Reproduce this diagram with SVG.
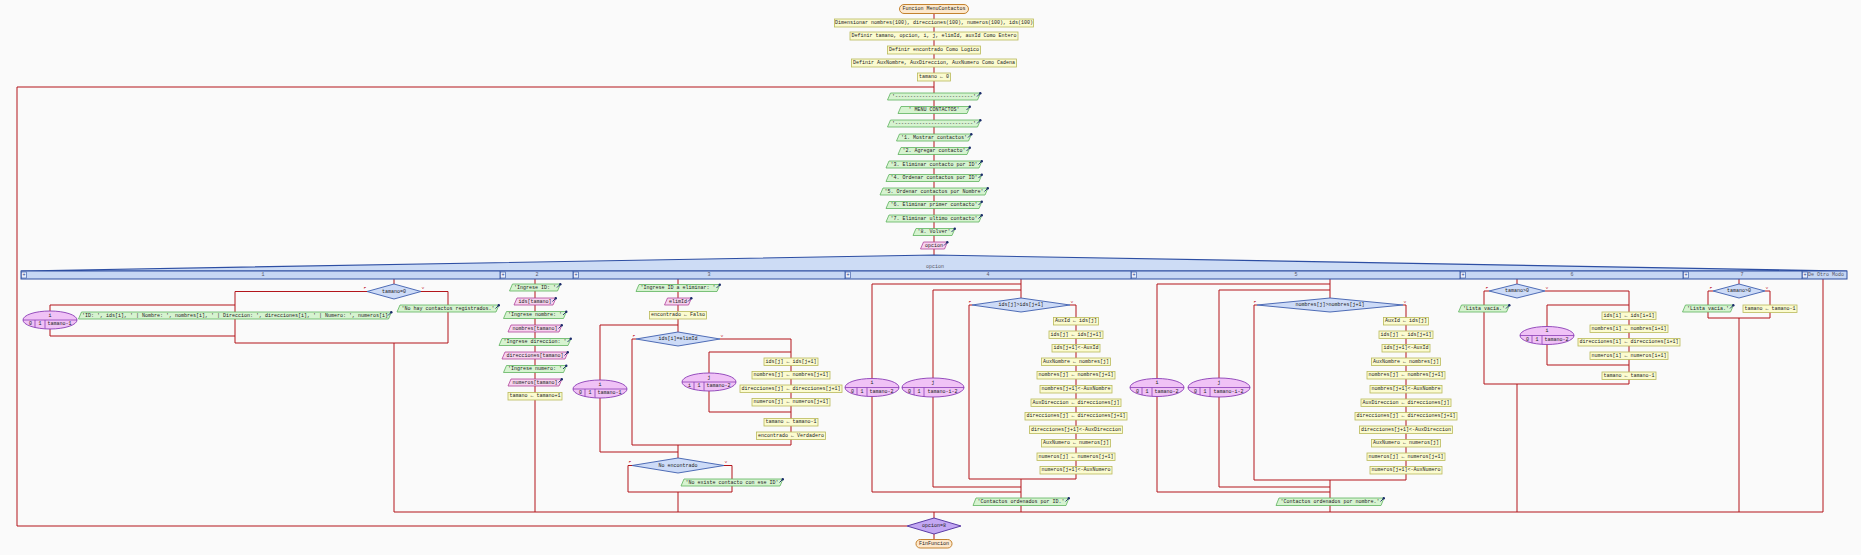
<svg xmlns="http://www.w3.org/2000/svg" width="1861" height="555" viewBox="0 0 1861 555">
<style>
text{font-family:"Liberation Mono","DejaVu Sans Mono",monospace;font-size:5px;fill:#222;text-anchor:middle;dominant-baseline:central}
.a{fill:#fbfbd0;stroke:#b9b95a;stroke-width:.8}
.o{fill:#d6f3d0;stroke:#5db35d;stroke-width:.8}
.i{fill:#f7d3ef;stroke:#b0449a;stroke-width:.8}
.d{fill:#cddbf7;stroke:#3d5dae;stroke-width:.9}
.f{fill:#f0c2f6;stroke:#8a3cb6;stroke-width:.9}
.t{fill:#fde8cc;stroke:#c3822f;stroke-width:1}
.c path{fill:none;stroke:#b3151b;stroke-width:1}
.fv{font-size:4px;fill:#c0141a}
.lbl{fill:#556}
.pb{fill:#e8eefa;stroke:#2e4fa0;stroke-width:.6}
.pt{fill:#1d3580;font-size:5px}
</style>
<defs>
<g id="ic"><path d="M-2.5,2.5 L0.5,-0.5" stroke="#1b2b6b" stroke-width="0.9"/><circle cx="0.8" cy="-0.8" r="1.2" fill="#1b2b6b"/></g>
<g id="fe"><ellipse class="f" cx="0" cy="0" rx="27" ry="9"/><path d="M-27,0 H27 M-15,0 V7.5 M-5,0 V8.8" stroke="#8a3cb6" stroke-width=".8" fill="none"/></g>
<g id="fw"><ellipse class="f" cx="0" cy="0" rx="31" ry="9.5"/><path d="M-31,0 H31 M-19,0 V7.5 M-9,0 V9.1" stroke="#8a3cb6" stroke-width=".8" fill="none"/></g>
</defs>
<rect x="0" y="0" width="1861" height="555" fill="#fafafa"/>

<g id="connectors" class="c">
<path d="M934,14 V255"/>
<path d="M907,526 H17 V87 H934"/>
<path d="M394,512 H1823"/>
<path d="M934,512 V518"/>
<path d="M934,534 V540"/>
<path d="M394,279 V284"/>
<path d="M367,291.5 H235 V343 H448 V291.5 H421"/>
<path d="M394,343 V512"/>
<path d="M235,305 H50 V311"/>
<path d="M50,329 V336 H235"/>
<path d="M535,279 V512"/>
<path d="M678,279 V332"/>
<path d="M636,339 H632 V445 H791 V339 H720"/>
<path d="M678,445 V458"/>
<path d="M678,325 H600 V380"/>
<path d="M600,398 V452 H678"/>
<path d="M791,352 H709 V373"/>
<path d="M709,391 V412 H791"/>
<path d="M632,465.5 H628 V492 H732 V465.5 H724"/>
<path d="M678,492 V512"/>
<path d="M1021,279 V298"/>
<path d="M1021,284 H872 V378.5"/>
<path d="M872,396.5 V492 H1021"/>
<path d="M1021,290 H933 V378"/>
<path d="M933,397 V487 H1021"/>
<path d="M972,305 H969 V479 H1076 V305 H1070"/>
<path d="M1021,479 V512"/>
<path d="M1330,279 V298"/>
<path d="M1330,284 H1157 V378.5"/>
<path d="M1157,396.5 V492 H1330"/>
<path d="M1330,290 H1219 V378"/>
<path d="M1219,397 V487 H1330"/>
<path d="M1257,305 H1254 V480 H1406 V305 H1403"/>
<path d="M1330,480 V512"/>
<path d="M1517,279 V284"/>
<path d="M1489,291 H1484 V384 H1629 V291 H1545"/>
<path d="M1629,305 H1547 V326.5"/>
<path d="M1547,344.5 V365 H1629"/>
<path d="M1517,384 V512"/>
<path d="M1739,279 V284"/>
<path d="M1713,291 H1708 V318 H1770 V291 H1765"/>
<path d="M1739,318 V512"/>
<path d="M1823,279 V512"/>
</g>

<g id="n_start"><rect class="t" x="899.5" y="4.5" width="69" height="9" rx="4.5"/><text x="934" y="9">Funcion MenuContactos</text></g>
<g id="n_dim"><rect class="a" x="834.5" y="19" width="199" height="8"/><text x="934" y="23">Dimensionar nombres(100), direcciones(100), numeros(100), ids(100)</text></g>
<g id="n_def1"><rect class="a" x="850" y="32" width="168" height="8"/><text x="934" y="36">Definir tamano, opcion, i, j, elimId, auxId Como Entero</text></g>
<g id="n_def2"><rect class="a" x="887.5" y="46" width="93" height="8"/><text x="934" y="50">Definir encontrado Como Logico</text></g>
<g id="n_def3"><rect class="a" x="851.5" y="59" width="165" height="8"/><text x="934" y="63">Definir AuxNombre, AuxDireccion, AuxNumero Como Cadena</text></g>
<g id="n_tam0"><rect class="a" x="917.5" y="73" width="33" height="8"/><text x="934" y="77">tamano ← 0</text></g>

<g id="m1"><path class="o" d="M890.5,93 H980.5 L977.5,100 H887.5 Z"/><text x="934" y="96.5">'--------------------------'</text><use href="#ic" x="979.5" y="94"/></g>
<g id="m2"><path class="o" d="M901,106.5 H970 L967,113.5 H898 Z"/><text x="934" y="110">'     MENU CONTACTOS'</text><use href="#ic" x="969" y="107.5"/></g>
<g id="m3"><path class="o" d="M890.5,120 H980.5 L977.5,127 H887.5 Z"/><text x="934" y="123.5">'--------------------------'</text><use href="#ic" x="979.5" y="121"/></g>
<g id="m4"><path class="o" d="M899.5,134 H971.5 L968.5,141 H896.5 Z"/><text x="934" y="137.5">'1. Mostrar contactos'</text><use href="#ic" x="970.5" y="135"/></g>
<g id="m5"><path class="o" d="M901,147.5 H970 L967,154.5 H898 Z"/><text x="934" y="151">'2. Agregar contacto'</text><use href="#ic" x="969" y="148.5"/></g>
<g id="m6"><path class="o" d="M889,161 H982 L979,168 H886 Z"/><text x="934" y="164.5">'3. Eliminar contacto por ID'</text><use href="#ic" x="981" y="162"/></g>
<g id="m7"><path class="o" d="M889,174.5 H982 L979,181.5 H886 Z"/><text x="934" y="178">'4. Ordenar contactos por ID'</text><use href="#ic" x="981" y="175.5"/></g>
<g id="m8"><path class="o" d="M883,188 H988 L985,195 H880 Z"/><text x="934" y="191.5">'5. Ordenar contactos por Nombre'</text><use href="#ic" x="987" y="189"/></g>
<g id="m9"><path class="o" d="M889,201.5 H982 L979,208.5 H886 Z"/><text x="934" y="205">'6. Eliminar primer contacto'</text><use href="#ic" x="981" y="202.5"/></g>
<g id="m10"><path class="o" d="M889,215 H982 L979,222 H886 Z"/><text x="934" y="218.5">'7. Eliminar ultimo contacto'</text><use href="#ic" x="981" y="216"/></g>
<g id="m11"><path class="o" d="M916,228.5 H955 L952,235.5 H913 Z"/><text x="934" y="232">'8. Volver'</text><use href="#ic" x="954" y="229.5"/></g>
<g id="n_leer"><path class="i" d="M923.5,242 H947.5 L944.5,249 H920.5 Z"/><text x="934" y="245.5">opcion</text><use href="#ic" x="946.5" y="243"/></g>

<g id="n_segun">
<polygon points="21,271 934,255 1847,271" fill="#cddcf5" stroke="#2d4ea3" stroke-width="1.1"/>
<text x="935" y="266.5" class="lbl">opcion</text>
<rect x="21" y="271" width="1826" height="8" fill="#c6d7f4" stroke="#2e4fa0" stroke-width="1"/>
<path d="M500,271 V279 M573,271 V279 M845,271 V279 M1131,271 V279 M1460,271 V279 M1683,271 V279 M1802,271 V279" stroke="#2e4fa0" stroke-width=".8"/>
<rect class="pb" x="21.5" y="272" width="5" height="6"/><text class="pt" x="24" y="275">+</text>
<rect class="pb" x="500.5" y="272" width="5" height="6"/><text class="pt" x="503" y="275">+</text>
<rect class="pb" x="573.5" y="272" width="5" height="6"/><text class="pt" x="576" y="275">+</text>
<rect class="pb" x="845.5" y="272" width="5" height="6"/><text class="pt" x="848" y="275">+</text>
<rect class="pb" x="1131.5" y="272" width="5" height="6"/><text class="pt" x="1134" y="275">+</text>
<rect class="pb" x="1460.5" y="272" width="5" height="6"/><text class="pt" x="1463" y="275">+</text>
<rect class="pb" x="1683.5" y="272" width="5" height="6"/><text class="pt" x="1686" y="275">+</text>
<rect class="pb" x="1802.5" y="272" width="5" height="6"/><text class="pt" x="1805" y="275">+</text>
<text class="lbl" x="263" y="275">1</text>
<text class="lbl" x="537" y="275">2</text>
<text class="lbl" x="709" y="275">3</text>
<text class="lbl" x="988" y="275">4</text>
<text class="lbl" x="1296" y="275">5</text>
<text class="lbl" x="1572" y="275">6</text>
<text class="lbl" x="1742" y="275">7</text>
<text class="lbl" x="1826" y="275">De Otro Modo</text>
</g>

<!-- case 1 -->
<g id="c1_si"><polygon class="d" points="394,284 421,291.5 394,299 367,291.5"/><text x="394" y="291.5">tamano=0</text><text class="fv" x="365" y="288">F</text><text class="fv" x="423" y="288">V</text></g>
<g id="c1_para"><use href="#fe" x="50" y="320"/><text x="50" y="315.5">i</text><text x="30.5" y="324">0</text><text x="40" y="324">1</text><text x="59.5" y="324">tamano-1</text></g>
<g id="c1_out"><path class="o" d="M81.5,312 H391.5 L388.5,319 H78.5 Z"/><text x="235" y="315.5">'ID: ', ids[i], ' | Nombre: ', nombres[i], ' | Direccion: ', direcciones[i], ' | Numero: ', numeros[i]</text><use href="#ic" x="390.5" y="313"/></g>
<g id="c1_vacio"><path class="o" d="M400,305 H499 L496,312 H397 Z"/><text x="448" y="308.5">'No hay contactos registrados.'</text><use href="#ic" x="498" y="306"/></g>

<!-- case 2 -->
<g id="c2_o1"><path class="o" d="M512.5,284 H560.5 L557.5,291 H509.5 Z"/><text x="535" y="287.5">'Ingrese ID: '</text><use href="#ic" x="559.5" y="285"/></g>
<g id="c2_i1"><path class="i" d="M517,298 H556 L553,305 H514 Z"/><text x="535" y="301.5">ids[tamano]</text><use href="#ic" x="555" y="299"/></g>
<g id="c2_o2"><path class="o" d="M506.5,311.5 H566.5 L563.5,318.5 H503.5 Z"/><text x="535" y="315">'Ingrese nombre: '</text><use href="#ic" x="565.5" y="312.5"/></g>
<g id="c2_i2"><path class="i" d="M511,325 H562 L559,332 H508 Z"/><text x="535" y="328.5">nombres[tamano]</text><use href="#ic" x="561" y="326"/></g>
<g id="c2_o3"><path class="o" d="M502,338.5 H571 L568,345.5 H499 Z"/><text x="535" y="342">'Ingrese direccion: '</text><use href="#ic" x="570" y="339.5"/></g>
<g id="c2_i3"><path class="i" d="M505,352 H568 L565,359 H502 Z"/><text x="535" y="355.5">direcciones[tamano]</text><use href="#ic" x="567" y="353"/></g>
<g id="c2_o4"><path class="o" d="M506.5,365.5 H566.5 L563.5,372.5 H503.5 Z"/><text x="535" y="369">'Ingrese numero: '</text><use href="#ic" x="565.5" y="366.5"/></g>
<g id="c2_i4"><path class="i" d="M511,379 H562 L559,386 H508 Z"/><text x="535" y="382.5">numeros[tamano]</text><use href="#ic" x="561" y="380"/></g>
<g id="c2_a1"><rect class="a" x="508" y="392.5" width="54" height="7.5"/><text x="535" y="396.25">tamano ← tamano+1</text></g>

<!-- case 3 -->
<g id="c3_o1"><path class="o" d="M639,284.5 H720 L717,291.5 H636 Z"/><text x="678" y="288">'Ingrese ID a eliminar: '</text><use href="#ic" x="719" y="285.5"/></g>
<g id="c3_i1"><path class="i" d="M667.5,298 H691.5 L688.5,305 H664.5 Z"/><text x="678" y="301.5">elimId</text><use href="#ic" x="690.5" y="299"/></g>
<g id="c3_a1"><rect class="a" x="649.5" y="311.5" width="57" height="7.5"/><text x="678" y="315.25">encontrado ← Falso</text></g>
<g id="c3_para"><use href="#fe" x="600" y="389"/><text x="600" y="384.5">i</text><text x="580.5" y="393">0</text><text x="590" y="393">1</text><text x="609.5" y="393">tamano-1</text></g>
<g id="c3_si"><polygon class="d" points="678,332 720,339 678,346 636,339"/><text x="678" y="339">ids[i]=elimId</text><text class="fv" x="634" y="335.5">F</text><text class="fv" x="722" y="335.5">V</text></g>
<g id="c3_para2"><use href="#fe" x="709" y="382"/><text x="709" y="377.5">j</text><text x="689.5" y="386">i</text><text x="699" y="386">1</text><text x="718.5" y="386">tamano-2</text></g>
<g id="c3_a2"><rect class="a" x="764" y="358" width="54" height="7.5"/><text x="791" y="361.75">ids[j] ← ids[j+1]</text></g>
<g id="c3_a3"><rect class="a" x="752" y="371.5" width="78" height="7.5"/><text x="791" y="375.25">nombres[j] ← nombres[j+1]</text></g>
<g id="c3_a4"><rect class="a" x="740" y="385" width="102" height="7.5"/><text x="791" y="388.75">direcciones[j] ← direcciones[j+1]</text></g>
<g id="c3_a5"><rect class="a" x="752" y="398.5" width="78" height="7.5"/><text x="791" y="402.25">numeros[j] ← numeros[j+1]</text></g>
<g id="c3_a6"><rect class="a" x="764" y="418.5" width="54" height="7.5"/><text x="791" y="422.25">tamano ← tamano-1</text></g>
<g id="c3_a7"><rect class="a" x="756.5" y="432" width="69" height="7.5"/><text x="791" y="435.75">encontrado ← Verdadero</text></g>
<g id="c3_si2"><polygon class="d" points="678,458 724,465.5 678,473 632,465.5"/><text x="678" y="465.5">No encontrado</text><text class="fv" x="630" y="462">F</text><text class="fv" x="726" y="462">V</text></g>
<g id="c3_o2"><path class="o" d="M684,479 H783 L780,486 H681 Z"/><text x="732" y="482.5">'No existe contacto con ese ID'</text><use href="#ic" x="782" y="480"/></g>

<!-- case 4 -->
<g id="c4_para1"><use href="#fe" x="872" y="387.5"/><text x="872" y="383">i</text><text x="852.5" y="391.5">0</text><text x="862" y="391.5">1</text><text x="881.5" y="391.5">tamano-2</text></g>
<g id="c4_para2"><use href="#fw" x="933" y="387.5"/><text x="933" y="383">j</text><text x="909.5" y="391.5">0</text><text x="919" y="391.5">1</text><text x="942.5" y="391.5">tamano-i-2</text></g>
<g id="c4_si"><polygon class="d" points="1021,298 1070,305 1021,312 972,305"/><text x="1021" y="305">ids[j]&gt;ids[j+1]</text><text class="fv" x="970" y="301.5">F</text><text class="fv" x="1072" y="301.5">V</text></g>
<g id="c4_a1"><rect class="a" x="1053.5" y="317.5" width="45" height="7.5"/><text x="1076" y="321.25">AuxId ← ids[j]</text></g>
<g id="c4_a2"><rect class="a" x="1049" y="331" width="54" height="7.5"/><text x="1076" y="334.75">ids[j] ← ids[j+1]</text></g>
<g id="c4_a3"><rect class="a" x="1052" y="344.5" width="48" height="7.5"/><text x="1076" y="348.25">ids[j+1]&lt;-AuxId</text></g>
<g id="c4_a4"><rect class="a" x="1041.5" y="358" width="69" height="7.5"/><text x="1076" y="361.75">AuxNombre ← nombres[j]</text></g>
<g id="c4_a5"><rect class="a" x="1037" y="371.5" width="78" height="7.5"/><text x="1076" y="375.25">nombres[j] ← nombres[j+1]</text></g>
<g id="c4_a6"><rect class="a" x="1040" y="385.5" width="72" height="7.5"/><text x="1076" y="389.25">nombres[j+1]&lt;-AuxNombre</text></g>
<g id="c4_a7"><rect class="a" x="1031" y="399" width="90" height="7.5"/><text x="1076" y="402.75">AuxDireccion ← direcciones[j]</text></g>
<g id="c4_a8"><rect class="a" x="1025" y="412.5" width="102" height="7.5"/><text x="1076" y="416.25">direcciones[j] ← direcciones[j+1]</text></g>
<g id="c4_a9"><rect class="a" x="1029.5" y="426" width="93" height="7.5"/><text x="1076" y="429.75">direcciones[j+1]&lt;-AuxDireccion</text></g>
<g id="c4_a10"><rect class="a" x="1041.5" y="439.5" width="69" height="7.5"/><text x="1076" y="443.25">AuxNumero ← numeros[j]</text></g>
<g id="c4_a11"><rect class="a" x="1037" y="453" width="78" height="7.5"/><text x="1076" y="456.75">numeros[j] ← numeros[j+1]</text></g>
<g id="c4_a12"><rect class="a" x="1040" y="466.5" width="72" height="7.5"/><text x="1076" y="470.25">numeros[j+1]&lt;-AuxNumero</text></g>
<g id="c4_out"><path class="o" d="M976,498 H1069 L1066,505.5 H973 Z"/><text x="1021" y="501.75">'Contactos ordenados por ID.'</text><use href="#ic" x="1068" y="499"/></g>

<!-- case 5 -->
<g id="c5_para1"><use href="#fe" x="1157" y="387.5"/><text x="1157" y="383">i</text><text x="1137.5" y="391.5">0</text><text x="1147" y="391.5">1</text><text x="1166.5" y="391.5">tamano-2</text></g>
<g id="c5_para2"><use href="#fw" x="1219" y="387.5"/><text x="1219" y="383">j</text><text x="1195.5" y="391.5">0</text><text x="1205" y="391.5">1</text><text x="1228.5" y="391.5">tamano-i-2</text></g>
<g id="c5_si"><polygon class="d" points="1330,298 1403,305 1330,312 1257,305"/><text x="1330" y="305">nombres[j]&gt;nombres[j+1]</text><text class="fv" x="1255" y="301.5">F</text><text class="fv" x="1405" y="301.5">V</text></g>
<g id="c5_a1"><rect class="a" x="1383.5" y="317.5" width="45" height="7.5"/><text x="1406" y="321.25">AuxId ← ids[j]</text></g>
<g id="c5_a2"><rect class="a" x="1379" y="331" width="54" height="7.5"/><text x="1406" y="334.75">ids[j] ← ids[j+1]</text></g>
<g id="c5_a3"><rect class="a" x="1382" y="344.5" width="48" height="7.5"/><text x="1406" y="348.25">ids[j+1]&lt;-AuxId</text></g>
<g id="c5_a4"><rect class="a" x="1371.5" y="358" width="69" height="7.5"/><text x="1406" y="361.75">AuxNombre ← nombres[j]</text></g>
<g id="c5_a5"><rect class="a" x="1367" y="371.5" width="78" height="7.5"/><text x="1406" y="375.25">nombres[j] ← nombres[j+1]</text></g>
<g id="c5_a6"><rect class="a" x="1370" y="385.5" width="72" height="7.5"/><text x="1406" y="389.25">nombres[j+1]&lt;-AuxNombre</text></g>
<g id="c5_a7"><rect class="a" x="1361" y="399" width="90" height="7.5"/><text x="1406" y="402.75">AuxDireccion ← direcciones[j]</text></g>
<g id="c5_a8"><rect class="a" x="1355" y="412.5" width="102" height="7.5"/><text x="1406" y="416.25">direcciones[j] ← direcciones[j+1]</text></g>
<g id="c5_a9"><rect class="a" x="1359.5" y="426" width="93" height="7.5"/><text x="1406" y="429.75">direcciones[j+1]&lt;-AuxDireccion</text></g>
<g id="c5_a10"><rect class="a" x="1371.5" y="439.5" width="69" height="7.5"/><text x="1406" y="443.25">AuxNumero ← numeros[j]</text></g>
<g id="c5_a11"><rect class="a" x="1367" y="453" width="78" height="7.5"/><text x="1406" y="456.75">numeros[j] ← numeros[j+1]</text></g>
<g id="c5_a12"><rect class="a" x="1370" y="466.5" width="72" height="7.5"/><text x="1406" y="470.25">numeros[j+1]&lt;-AuxNumero</text></g>
<g id="c5_out"><path class="o" d="M1279,498 H1384 L1381,505.5 H1276 Z"/><text x="1330" y="501.75">'Contactos ordenados por nombre.'</text><use href="#ic" x="1383" y="499"/></g>

<!-- case 6 -->
<g id="c6_si"><polygon class="d" points="1517,284 1545,291 1517,298 1489,291"/><text x="1517" y="291">tamano&gt;0</text><text class="fv" x="1487" y="287.5">F</text><text class="fv" x="1547" y="287.5">V</text></g>
<g id="c6_out"><path class="o" d="M1461.5,305 H1509.5 L1506.5,312 H1458.5 Z"/><text x="1484" y="308.5">'Lista vacía.'</text><use href="#ic" x="1508.5" y="306"/></g>
<g id="c6_para"><use href="#fe" x="1547" y="335.5"/><text x="1547" y="331">i</text><text x="1527.5" y="339.5">0</text><text x="1537" y="339.5">1</text><text x="1556.5" y="339.5">tamano-2</text></g>
<g id="c6_a1"><rect class="a" x="1602" y="312" width="54" height="7.5"/><text x="1629" y="315.75">ids[i] ← ids[i+1]</text></g>
<g id="c6_a2"><rect class="a" x="1590" y="325" width="78" height="7.5"/><text x="1629" y="328.75">nombres[i] ← nombres[i+1]</text></g>
<g id="c6_a3"><rect class="a" x="1578" y="338.5" width="102" height="7.5"/><text x="1629" y="342.25">direcciones[i] ← direcciones[i+1]</text></g>
<g id="c6_a4"><rect class="a" x="1590" y="352" width="78" height="7.5"/><text x="1629" y="355.75">numeros[i] ← numeros[i+1]</text></g>
<g id="c6_a5"><rect class="a" x="1602" y="372" width="54" height="7.5"/><text x="1629" y="375.75">tamano ← tamano-1</text></g>

<!-- case 7 -->
<g id="c7_si"><polygon class="d" points="1739,284 1765,291 1739,298 1713,291"/><text x="1739" y="291">tamano&gt;0</text><text class="fv" x="1711" y="287.5">F</text><text class="fv" x="1767" y="287.5">V</text></g>
<g id="c7_out"><path class="o" d="M1685.5,305 H1733.5 L1730.5,312 H1682.5 Z"/><text x="1708" y="308.5">'Lista vacía.'</text><use href="#ic" x="1732.5" y="306"/></g>
<g id="c7_a1"><rect class="a" x="1743" y="305" width="54" height="7.5"/><text x="1770" y="308.75">tamano ← tamano-1</text></g>

<g id="n_hasta"><polygon points="934,518 961,526 934,534 907,526" fill="#c3a7f3" stroke="#5b3ca6" stroke-width="1"/><text x="934" y="526">opcion=8</text></g>
<g id="n_fin"><rect class="t" x="916" y="539.5" width="36" height="8.5" rx="4.2"/><text x="934" y="543.75">FinFuncion</text></g>
</svg>
